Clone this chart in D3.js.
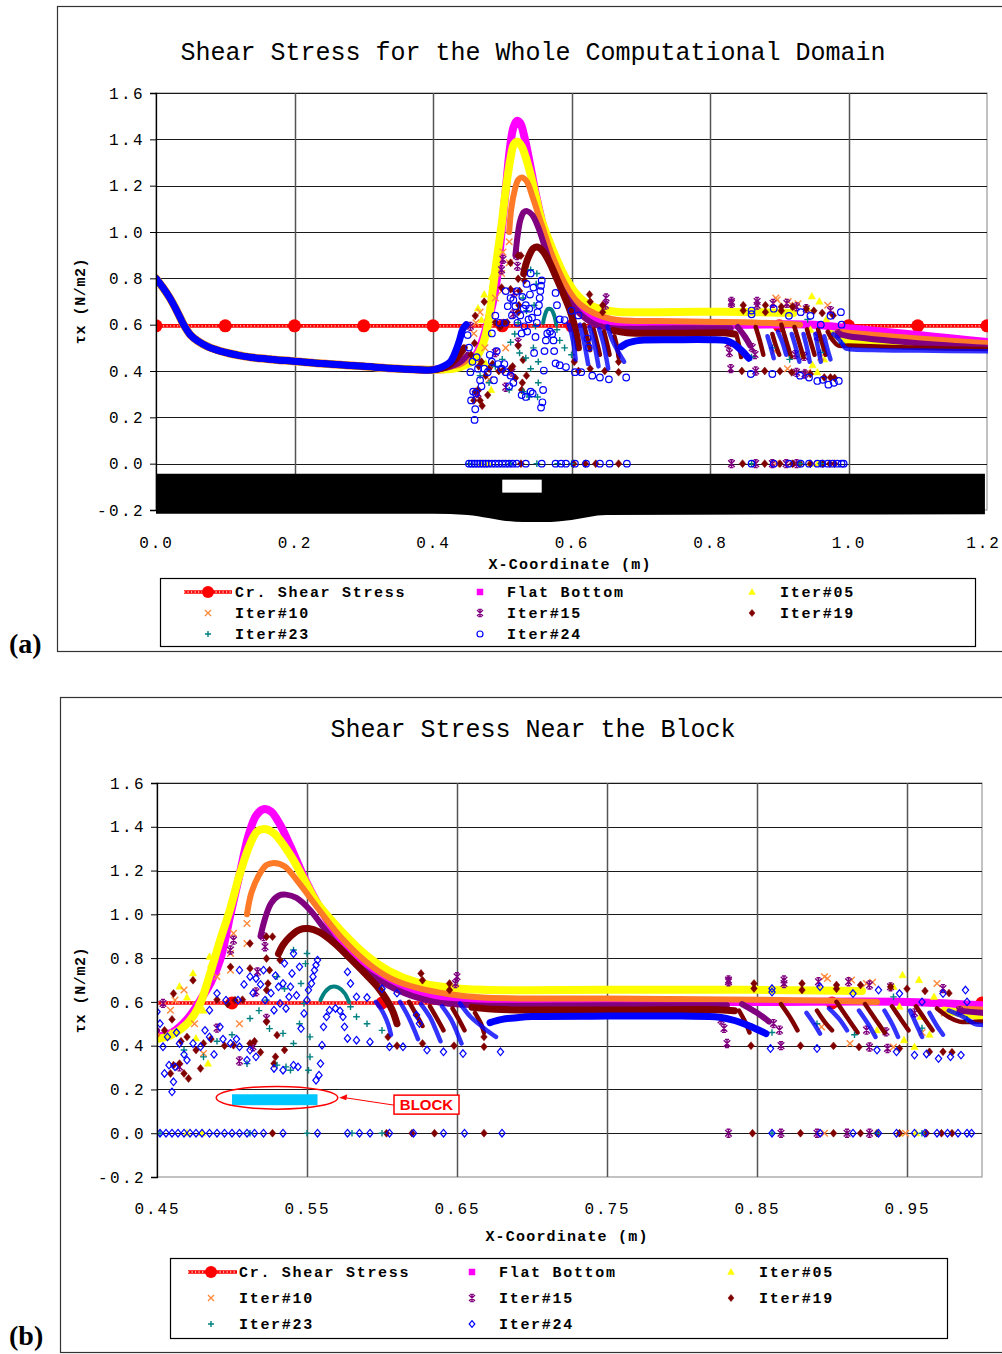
<!DOCTYPE html>
<html>
<head>
<meta charset="utf-8">
<script src="https://cdn.jsdelivr.net/npm/d3@7"></script>
<style>
  body { margin: 0; background: #fff; }
</style>
</head>
<body>
<svg id="chart" width="1002" height="1354"></svg>
<script>
const mono = '"Liberation Mono","Courier New",monospace';

// ---- data (x in m, tau in N/m2) ----
const yTicks = [-0.2, 0, 0.2, 0.4, 0.6, 0.8, 1.0, 1.2, 1.4, 1.6];
const xTicksA = [0, 0.2, 0.4, 0.6, 0.8, 1.0, 1.2];
const xTicksB = [0.45, 0.55, 0.65, 0.75, 0.85, 0.95];

const crX = [0, 0.1, 0.2, 0.3, 0.4, 0.5, 0.6, 0.7, 0.8, 0.9, 1.0, 1.1, 1.2];
const crY = [0.595, 0.595, 0.595, 0.595, 0.595, 0.595, 0.595, 0.595, 0.595, 0.595, 0.595, 0.595, 0.595];

// channel bed shown under panel (a)
const bedX = [0, 0.40, 0.45, 0.48, 0.50, 0.53, 0.56, 0.60, 0.65, 1.197];
const bedTop = [-0.043, -0.043, -0.043, -0.043, -0.043, -0.043, -0.043, -0.043, -0.043, -0.043];
const bedBottom = [-0.216, -0.216, -0.222, -0.235, -0.245, -0.252, -0.252, -0.243, -0.222, -0.218];
const blockX = [0.500, 0.557];

// common decay upstream of the block
const upstream = [[0,0.80],[0.01,0.76],[0.02,0.715],[0.03,0.66],[0.04,0.60],[0.05,0.555],[0.06,0.53],
  [0.075,0.505],[0.1,0.48],[0.13,0.462],[0.16,0.452],[0.2,0.442],[0.25,0.43],[0.3,0.42],[0.35,0.41],[0.4,0.405]];

const flatBand = [upstream.concat([[0.43,0.415],[0.45,0.44],[0.46,0.46],[0.47,0.52],[0.48,0.62],[0.486,0.69],
  [0.492,0.79],[0.499,1.00],[0.505,1.18],[0.511,1.36],[0.516,1.45],[0.521,1.48],[0.526,1.47],[0.532,1.41],
  [0.539,1.31],[0.548,1.17],[0.557,1.05],[0.57,0.90],[0.58,0.81],[0.59,0.75],[0.605,0.69],[0.623,0.645],
  [0.645,0.615],[0.67,0.60],[0.75,0.60],[0.85,0.60],[0.95,0.60],[1.0,0.585],[1.05,0.57],[1.1,0.555],
  [1.15,0.54],[1.2,0.525]])];
const flatPts = [];

const it05Band = [upstream.concat([[0.43,0.41],[0.45,0.43],[0.46,0.45],[0.47,0.50],[0.478,0.58],[0.485,0.72],
  [0.492,0.88],[0.499,1.03],[0.505,1.18],[0.512,1.32],[0.517,1.38],[0.522,1.39],[0.528,1.37],[0.539,1.27],
  [0.548,1.16],[0.557,1.05],[0.572,0.93],[0.59,0.81],[0.605,0.74],[0.623,0.69],[0.645,0.665],[0.667,0.655],
  [0.75,0.655],[0.85,0.655],[0.92,0.65]]),
  [[0.975,0.56],[0.99,0.545],[1.0,0.535],[1.05,0.525],[1.1,0.515],[1.15,0.51],[1.2,0.505]]];
const it05Pts = [[0.459,0.456],[0.465,0.67],[0.474,0.73],[0.476,0.433],[0.481,0.56],[0.484,0.318],[0.485,0.806],
  [0.486,0.77],[0.47,0.62],[0.478,0.60],[0.941,0.669],[0.945,0.578],[0.947,0.722],[0.948,0.425],[0.955,0.394],
  [0.958,0.70],[0.959,0.532],[0.968,0.623],[0.997,0.524],[0.93,0.47],[0.965,0.45],[0.945,0],[0.956,0],[0.47,0],[0.48,0]];

const it10Band = [upstream.concat([[0.42,0.415],[0.44,0.43],[0.45,0.45]]),
  [[0.510,1.00],[0.513,1.10],[0.518,1.18],[0.523,1.225],[0.528,1.235],[0.535,1.22],[0.545,1.14],[0.557,1.03],
   [0.572,0.90],[0.59,0.78],[0.605,0.71],[0.623,0.665],[0.645,0.635],[0.667,0.62],[0.75,0.615],[0.85,0.61],
   [0.9,0.605],[0.93,0.60]],
  [[0.985,0.57],[1.0,0.565],[1.1,0.54],[1.2,0.52]]];
const it10Pts = [[0.459,0.562],[0.462,0.608],[0.468,0.654],[0.481,0.364],[0.490,0.715],[0.499,0.745],[0.499,0.821],
  [0.501,0.913],[0.510,0.867],[0.510,0.958],[0.475,0.50],[0.505,0.50],[0.893,0.486],[0.895,0.715],[0.897,0.707],
  [0.912,0.41],[0.913,0.70],[0.923,0.684],[0.927,0.69],[0.941,0.394],[0.97,0.684],[0.96,0.46],[0.975,0.55],
  [0.895,0],[0.949,0]];

const it15Band = [upstream.concat([[0.42,0.415],[0.44,0.44],[0.45,0.47]]),
  [[0.519,0.90],[0.522,0.98],[0.526,1.05],[0.531,1.085],[0.536,1.09],[0.543,1.075],[0.552,1.02],[0.561,0.94],
   [0.57,0.86],[0.585,0.76],[0.60,0.69],[0.615,0.64],[0.635,0.60],[0.66,0.585],[0.75,0.585],[0.83,0.585]],
  [[0.84,0.59],[0.85,0.55],[0.858,0.51]],
  [[0.985,0.56],[1.0,0.55],[1.1,0.52],[1.2,0.50]]];
const it15Pts = [[0.454,0.593],[0.465,0.303],[0.499,0.837],[0.501,0.882],[0.514,0.395],[0.516,0.646],[0.517,0.737],
  [0.521,0.898],[0.522,0.852],[0.523,0.524],[0.49,0.48],[0.505,0.33],[0.649,0.684],[0.650,0.715],
  [0.826,0.517],[0.828,0.479],[0.830,0.41],[0.831,0.692],[0.831,0.70],[0.861,0.501],[0.865,0.471],[0.866,0.40],
  [0.868,0.684],[0.868,0.70],[0.891,0.692],[0.911,0.692],[0.923,0.471],[0.925,0.677],[0.925,0.394],[0.936,0.463],
  [0.937,0.387],[0.939,0.669],[0.974,0.661],[0.955,0.55],[0.985,0.56],
  [0.831,0],[0.866,0],[0.89,0],[0.91,0],[0.925,0]];

const it19Band = [upstream.concat([[0.42,0.42],[0.435,0.46],[0.445,0.50]]),
  [[0.531,0.82],[0.534,0.86],[0.539,0.90],[0.545,0.93],[0.551,0.935],[0.558,0.92],[0.568,0.87],[0.58,0.79],
   [0.59,0.72],[0.598,0.66],[0.603,0.61],[0.607,0.56],[0.61,0.50]],
  [[0.66,0.575],[0.68,0.565],[0.75,0.563],[0.82,0.565],[0.835,0.56]],
  [[0.618,0.60],[0.623,0.54],[0.627,0.49]],
  [[0.632,0.58],[0.637,0.52],[0.641,0.47]],
  [[0.647,0.57],[0.652,0.51],[0.655,0.47]],
  [[0.662,0.55],[0.666,0.50],[0.668,0.46]],
  [[0.838,0.56],[0.842,0.51],[0.845,0.46]],
  [[0.866,0.59],[0.872,0.53],[0.877,0.47]],
  [[0.89,0.56],[0.895,0.51],[0.90,0.47]],
  [[0.903,0.60],[0.91,0.53],[0.917,0.46]],
  [[0.922,0.59],[0.929,0.52],[0.935,0.46]],
  [[0.94,0.58],[0.946,0.52],[0.951,0.47]],
  [[0.956,0.58],[0.962,0.52],[0.967,0.47]],
  [[0.97,0.57],[0.978,0.53],[0.985,0.51],[1.0,0.51],[1.1,0.50],[1.2,0.495]]];
const it19Pts = [[0.459,0.273],[0.461,0.311],[0.461,0.638],[0.465,0.318],[0.468,0.273],[0.471,0.25],[0.474,0.699],
  [0.479,0.296],[0.481,0.41],[0.499,0.76],[0.501,0.402],[0.502,0.608],[0.512,0.41],[0.512,0.753],[0.512,0.867],
  [0.523,0.509],[0.523,0.654],[0.523,0.798],[0.523,0.898],[0.524,0.684],[0.525,0.745],[0.528,0.318],[0.529,0.349],
  [0.530,0.448],[0.532,0.791],[0.527,0.898],[0.455,0.47],[0.46,0.52],[0.49,0.61],[0.495,0.40],[0.47,0.44],
  [0.466,0.42],[0.476,0.38],[0.486,0.43],[0.497,0.59],[0.507,0.61],[0.515,0.42],[0.519,0.37],[0.535,0.38],
  [0.604,0.44],[0.626,0.73],[0.627,0.699],[0.627,0.41],[0.645,0.684],[0.645,0.654],[0.668,0.44],[0.668,0.395],
  [0.61,0.40],[0.648,0.40],
  [0.846,0.40],[0.848,0.684],[0.848,0.661],[0.879,0.40],[0.880,0.684],[0.880,0.654],[0.901,0.399],[0.903,0.677],
  [0.903,0.66],[0.918,0.394],[0.919,0.677],[0.939,0.669],[0.945,0.387],[0.95,0.66],[0.965,0.372],[0.962,0.65],
  [0.974,0.372],[0.978,0.64],[0.98,0.37],
  [0.527,0],[0.603,0],[0.62,0],[0.635,0],[0.668,0],[0.847,0],[0.879,0],[0.901,0],[0.919,0],[0.93,0],[0.945,0],
  [0.963,0],[0.973,0],[0.98,0]];

const it23Band = [[[0.559,0.608],[0.562,0.645],[0.566,0.668],[0.571,0.665],[0.575,0.64],[0.578,0.60]]];
const it23Pts = [[0.468,0.38],[0.481,0.349],[0.510,0.318],[0.512,0.524],[0.523,0.608],[0.525,0.478],[0.530,0.715],
  [0.530,0.311],[0.534,0.456],[0.536,0.303],[0.539,0.288],[0.541,0.41],[0.541,0.837],[0.546,0.684],[0.548,0.593],
  [0.549,0.775],[0.550,0.821],[0.552,0.44],[0.552,0.349],[0.551,0.288],[0.518,0.56],[0.535,0.66],[0.545,0.50],
  [0.579,0.578],[0.583,0.532],[0.59,0.50],[0.6,0.47],[0.5,0.45],[0.49,0.42],
  [0.86,0.46],[0.89,0.50],[0.915,0.45],[0.941,0.623],[0.96,0.48],[0.99,0.52],
  [0.452,0],[0.512,0],[0.55,0],[0.58,0],[0.6,0],[0.86,0],[0.93,0],[0.96,0]];

const it24Band = [upstream.concat([[0.415,0.42],[0.425,0.44],[0.432,0.48],[0.438,0.53],[0.443,0.58],[0.448,0.60]]),
  [[0.672,0.505],[0.68,0.52],[0.69,0.528],[0.70,0.533],[0.75,0.535],[0.80,0.535],[0.825,0.53],[0.835,0.515],
   [0.845,0.49],[0.856,0.455]],
  [[0.596,0.60],[0.600,0.56],[0.604,0.50],[0.606,0.45]],
  [[0.612,0.60],[0.617,0.54],[0.621,0.48],[0.624,0.43]],
  [[0.626,0.59],[0.632,0.53],[0.636,0.47],[0.639,0.42]],
  [[0.640,0.58],[0.646,0.52],[0.65,0.46],[0.653,0.41]],
  [[0.652,0.593],[0.659,0.532],[0.668,0.48],[0.676,0.44]],
  [[0.883,0.55],[0.888,0.50],[0.892,0.455]],
  [[0.898,0.57],[0.905,0.52],[0.91,0.47]],
  [[0.918,0.56],[0.924,0.50],[0.929,0.44]],
  [[0.935,0.56],[0.94,0.50],[0.944,0.44]],
  [[0.952,0.56],[0.956,0.50],[0.96,0.44]],
  [[0.965,0.55],[0.97,0.49],[0.974,0.45]],
  [[0.978,0.56],[0.988,0.53],[0.995,0.50],[1.0,0.495],[1.05,0.49],[1.1,0.488],[1.2,0.485]]];
const it24Pts = [[0.550,0.608],[0.551,0.654],[0.553,0.684],[0.554,0.715],[0.555,0.745],[0.556,0.768],[0.557,0.791],
  [0.556,0.242],[0.558,0.265],[0.559,0.318],[0.560,0.402],[0.541,0.821],[0.535,0.776],[0.540,0.730],[0.534,0.684],
  [0.539,0.669],[0.531,0.669],[0.538,0.623],[0.532,0.593],[0.548,0.547],[0.546,0.478],[0.528,0.562],[0.522,0.608],
  [0.512,0.715],[0.516,0.707],[0.521,0.745],[0.505,0.745],[0.504,0.608],[0.496,0.608],[0.490,0.639],[0.485,0.562],
  [0.492,0.486],[0.485,0.440],[0.499,0.41],[0.505,0.395],[0.512,0.38],[0.510,0.334],[0.516,0.349],[0.528,0.296],
  [0.534,0.288],[0.541,0.311],[0.544,0.303],[0.470,0.334],[0.462,0.303],[0.458,0.311],[0.455,0.273],[0.461,0.235],
  [0.460,0.189],[0.454,0.395],[0.450,0.555],[0.452,0.501],[0.465,0.41],[0.479,0.395],
  [0.457,0.44],[0.463,0.46],[0.468,0.36],[0.474,0.41],[0.482,0.47],[0.488,0.36],[0.494,0.43],[0.503,0.43],
  [0.508,0.68],[0.514,0.64],[0.519,0.68],[0.526,0.64],[0.529,0.72],[0.536,0.57],[0.543,0.63],[0.545,0.76],
  [0.561,0.486],[0.563,0.532],[0.565,0.562],[0.569,0.570],[0.572,0.559],[0.574,0.532],[0.575,0.486],
  [0.577,0.737],[0.579,0.684],[0.583,0.623],[0.577,0.433],[0.583,0.425],[0.592,0.417],[0.605,0.395],[0.614,0.395],
  [0.630,0.38],[0.641,0.372],[0.654,0.364],[0.679,0.372],[0.623,0.54],[0.625,0.501],[0.59,0.62],[0.60,0.66],[0.61,0.64],
  [0.860,0.661],[0.860,0.645],[0.892,0.669],[0.914,0.638],[0.931,0.654],[0.945,0.638],[0.974,0.638],[0.989,0.654],
  [0.859,0.387],[0.890,0.387],[0.930,0.38],[0.943,0.372],[0.955,0.357],[0.963,0.362],[0.971,0.341],[0.979,0.349],
  [0.986,0.357],[0.96,0.60],[0.99,0.60],
  [0.452,0],[0.456,0],[0.46,0],[0.464,0],[0.468,0],[0.472,0],[0.476,0],[0.48,0],[0.485,0],[0.49,0],[0.495,0],[0.5,0],
  [0.505,0],[0.51,0],[0.515,0],[0.521,0],[0.534,0],[0.557,0],[0.577,0],[0.585,0],[0.592,0],[0.605,0],[0.621,0],
  [0.641,0],[0.655,0],[0.680,0],[0.86,0],[0.892,0],[0.914,0],[0.931,0],[0.943,0],[0.955,0],[0.962,0],[0.97,0],
  [0.977,0],[0.984,0],[0.99,0],[0.993,0]];

// the first segments of a band are the dense curves, the rest are the short falling arcs
const series = [
  { name: "Flat Bottom", color: "#ff00ff", mark: "square", band: flatBand, pts: flatPts, bw: 8, main: 1 },
  { name: "Iter#05", color: "#ffff00", mark: "triangle", band: it05Band, pts: it05Pts, bw: 8, main: 2 },
  { name: "Iter#10", color: "#ff8a3c", bandColor: "#ff7a26", mark: "x", band: it10Band, pts: it10Pts, bw: 6, main: 3 },
  { name: "Iter#15", color: "#800080", mark: "star", band: it15Band, pts: it15Pts, bw: 6, main: 4 },
  { name: "Iter#19", color: "#800000", mark: "diamond", band: it19Band, pts: it19Pts, bw: 7, main: 3 },
  { name: "Iter#23", color: "#008080", mark: "plus", band: it23Band, pts: it23Pts, bw: 4, main: 1 },
  { name: "Iter#24", color: "#0000ff", mark: "hollow", band: it24Band, pts: it24Pts, bw: 7, main: 2 }
];

const svg = d3.select("#chart");

// marker shapes, s = half size
function markerPath(type, s) {
  switch (type) {
    case "square": return `M${-s},${-s}H${s}V${s}H${-s}Z`;
    case "triangle": return `M0,${-s * 1.2}L${s * 1.1},${s * 0.8}L${-s * 1.1},${s * 0.8}Z`;
    case "diamond": return `M0,${-s * 1.2}L${s},0L0,${s * 1.2}L${-s},0Z`;
    case "x": return `M${-s},${-s}L${s},${s}M${-s},${s}L${s},${-s}`;
    case "plus": return `M${-s},0H${s}M0,${-s}V${s}`;
    case "star": return `M${-s},${-s}L${s},${s}M${-s},${s}L${s},${-s}M0,${-s * 1.2}V${s * 1.2}M${-s * 0.6},${-s * 1.2}H${s * 0.6}M${-s * 0.6},${s * 1.2}H${s * 0.6}`;
  }
}

function drawMarker(g, s, px, py, size, hollowShape) {
  if (s.mark === "hollow") {
    if (hollowShape === "circle") {
      g.append("circle").attr("cx", px).attr("cy", py).attr("r", size)
        .attr("fill", "none").attr("stroke", s.color).attr("stroke-width", 1.2);
    } else {
      g.append("path").attr("transform", `translate(${px},${py})`).attr("d", markerPath("diamond", size * 0.95))
        .attr("fill", "none").attr("stroke", s.color).attr("stroke-width", 1.2);
    }
    return;
  }
  const stroked = s.mark === "x" || s.mark === "plus" || s.mark === "star";
  g.append("path").attr("transform", `translate(${px},${py})`)
    .attr("d", markerPath(s.mark, size))
    .attr("fill", stroked ? "none" : s.color)
    .attr("stroke", s.color)
    .attr("stroke-width", stroked ? 1.4 : 0.5);
}

function drawCrLine(g, x1, x2, y0) {
  g.append("line").attr("x1", x1).attr("x2", x2).attr("y1", y0).attr("y2", y0)
    .attr("stroke", "#ff0000").attr("stroke-width", 3.6);
  g.append("line").attr("x1", x1).attr("x2", x2).attr("y1", y0).attr("y2", y0)
    .attr("stroke", "#ffd6d6").attr("stroke-width", 1.3).attr("stroke-dasharray", "1.2,2.3");
}

function panel(cfg) {
  const g = svg.append("g");
  const x = d3.scaleLinear().domain(cfg.xDomain).range([cfg.left, cfg.right]);
  const y = d3.scaleLinear().domain([-0.2, 1.6]).range([cfg.bottom, cfg.top]);

  // outer frame (runs past the right edge of the page)
  g.append("rect").attr("x", cfg.frame[0] + 0.5).attr("y", cfg.frame[1] + 0.5)
    .attr("width", 1100).attr("height", cfg.frame[2] - cfg.frame[1])
    .attr("fill", "none").attr("stroke", "#333").attr("stroke-width", 1.2);

  g.append("text").attr("x", 533).attr("y", cfg.titleY).attr("text-anchor", "middle")
    .attr("font-family", mono).attr("font-size", 25).text(cfg.title);

  // plot border and grid
  g.append("rect").attr("x", cfg.left).attr("y", cfg.top)
    .attr("width", cfg.right - cfg.left).attr("height", cfg.bottom - cfg.top)
    .attr("fill", "none").attr("stroke", "#999").attr("stroke-width", 1.2);
  g.append("g").selectAll("line").data(yTicks.slice(1)).join("line")
    .attr("x1", cfg.left).attr("x2", cfg.right)
    .attr("y1", d => Math.round(y(d)) + 0.5).attr("y2", d => Math.round(y(d)) + 0.5)
    .attr("stroke", "#1a1a1a").attr("stroke-width", 1.1);
  g.append("g").selectAll("line").data(cfg.xGrid).join("line")
    .attr("x1", d => Math.round(x(d)) + 0.5).attr("x2", d => Math.round(x(d)) + 0.5)
    .attr("y1", cfg.top).attr("y2", cfg.bottom)
    .attr("stroke", "#555").attr("stroke-width", 1.5);

  if (cfg.bed) {
    const bed = bedX.map((v, i) => [v, bedTop[i], bedBottom[i]]);
    g.append("path")
      .attr("d", d3.area().x(d => x(d[0])).y0(d => y(d[2])).y1(d => y(d[1])).curve(d3.curveMonotoneX)(bed))
      .attr("fill", "#000");
    g.append("rect").attr("x", x(blockX[0])).attr("width", x(blockX[1]) - x(blockX[0]))
      .attr("y", y(-0.069)).attr("height", y(-0.125) - y(-0.069)).attr("fill", "#fff");
  }

  const clipId = "clip" + cfg.id;
  svg.append("clipPath").attr("id", clipId).append("rect")
    .attr("x", cfg.left).attr("y", cfg.top - 10)
    .attr("width", cfg.right - cfg.left + 1).attr("height", cfg.bottom - cfg.top + 10);
  const plot = g.append("g").attr("clip-path", `url(#${clipId})`);

  // critical shear stress line + big dots
  drawCrLine(plot, x(crX[0]), x(crX[crX.length - 1]), y(crY[0]));
  plot.append("g").selectAll("circle").data(crX.map((v, i) => [v, crY[i]])).join("circle")
    .attr("cx", d => x(d[0])).attr("cy", d => y(d[1])).attr("r", 6.5).attr("fill", "#ff0000");

  const line = d3.line().x(d => x(d[0])).y(d => y(d[1])).curve(d3.curveCatmullRom.alpha(0.5));
  series.forEach(s => {
    const sg = plot.append("g");
    s.band.forEach((seg, i) => {
      const arc = i >= s.main;
      sg.append("path").attr("d", line(seg)).attr("fill", "none")
        .attr("stroke", s.bandColor || s.color).attr("stroke-width", arc ? s.bw - 2.5 : s.bw)
        .attr("stroke-opacity", arc && s.mark === "hollow" ? 0.8 : 1)
        .attr("stroke-linecap", "round").attr("stroke-linejoin", "round");
    });
    s.pts.forEach(p => drawMarker(sg, s, x(p[0]), y(p[1]), 3.3, cfg.hollow));
  });

  // y axis
  g.append("g").attr("transform", `translate(${cfg.left},0)`)
    .call(d3.axisLeft(y).tickValues(yTicks).tickFormat(d => d.toFixed(1)).tickSize(6).tickPadding(5))
    .call(a => a.select(".domain").attr("stroke", "#000").attr("stroke-width", 1.3))
    .call(a => a.selectAll(".tick line").attr("stroke", "#000"))
    .call(a => a.selectAll("text").attr("font-family", mono).attr("font-size", 16)
      .attr("letter-spacing", 2.4).attr("fill", "#000"));

  // x axis labels
  g.append("g").attr("transform", `translate(0,${cfg.bottom})`)
    .call(d3.axisBottom(x).tickValues(cfg.xTicks).tickFormat(d3.format(cfg.xFmt)).tickSize(0).tickPadding(cfg.xPad))
    .call(a => a.select(".domain").remove())
    .call(a => a.selectAll("text").attr("font-family", mono).attr("font-size", 16)
      .attr("letter-spacing", 1.9).attr("fill", "#000")
      .attr("dx", (d, i, n) => (i === n.length - 1 && cfg.id === "a") ? -4 : 0));

  g.append("text").attr("x", cfg.xTitle[0]).attr("y", cfg.xTitle[1]).attr("text-anchor", "middle")
    .attr("font-family", mono).attr("font-size", 15).attr("font-weight", "bold")
    .attr("letter-spacing", 1.2).text("X-Coordinate (m)");
  g.append("text").attr("transform", `translate(85,${cfg.yTitleY}) rotate(-90)`).attr("text-anchor", "middle")
    .attr("font-family", mono).attr("font-size", 15).attr("font-weight", "bold")
    .attr("letter-spacing", 0.6).text("\u03c4x (N/m2)");

  // panel label
  g.append("text").attr("x", 9).attr("y", cfg.labelY).attr("font-family", '"Liberation Serif","Times New Roman",serif')
    .attr("font-size", 28).attr("font-weight", "bold").text(cfg.label);

  // legend
  const L = cfg.legend;
  g.append("rect").attr("x", L.box[0] + 0.5).attr("y", L.box[1] + 0.5)
    .attr("width", L.box[2] - L.box[0]).attr("height", L.box[3] - L.box[1])
    .attr("fill", "#fff").attr("stroke", "#000").attr("stroke-width", 1.2);
  const entries = [{ name: "Cr. Shear Stress", cr: true }].concat(series);
  entries.forEach((e, i) => {
    const col = i % 3, row = Math.floor(i / 3);
    const mx = L.mx[col], ty = L.rows[row];
    if (e.cr) {
      drawCrLine(g, L.crLine[0], L.crLine[1], ty);
      g.append("circle").attr("cx", mx).attr("cy", ty).attr("r", 6).attr("fill", "#ff0000");
    } else {
      drawMarker(g, e, mx, ty, 3, cfg.hollow);
    }
    g.append("text").attr("x", L.tx[col]).attr("y", ty + 5)
      .attr("font-family", mono).attr("font-size", 15).attr("font-weight", "bold")
      .attr("letter-spacing", 1.7).text(e.name);
  });

  return { g, x, y };
}

panel({
  id: "a", title: "Shear Stress for the Whole Computational Domain", titleY: 60,
  frame: [57, 6, 651], left: 156, right: 987, top: 93, bottom: 510,
  xDomain: [0, 1.2], xTicks: xTicksA, xFmt: ".1f", xGrid: [0.2, 0.4, 0.6, 0.8, 1.0], xPad: 27,
  xTitle: [570, 569], yTitleY: 301, bed: true, hollow: "circle", label: "(a)", labelY: 653,
  legend: { box: [160, 578, 975, 646], mx: [208, 480, 752], tx: [235, 507, 780], rows: [592, 613, 634], crLine: [184, 232] }
});

const pb = panel({
  id: "b", title: "Shear Stress Near the Block", titleY: 737,
  frame: [60, 697, 1352], left: 157, right: 982, top: 783, bottom: 1177,
  xDomain: [0.45, 1.0], xTicks: xTicksB, xFmt: ".2f", xGrid: [0.55, 0.65, 0.75, 0.85, 0.95], xPad: 26,
  xTitle: [567, 1241], yTitleY: 990, bed: false, hollow: "diamond", label: "(b)", labelY: 1345,
  legend: { box: [170, 1258, 947, 1338], mx: [211, 472, 731], tx: [239, 499, 759], rows: [1272, 1298, 1324], crLine: [188, 237] }
});

// block annotation in panel (b)
(function () {
  const { g, x, y } = pb;
  g.append("rect").attr("x", x(blockX[0])).attr("width", x(blockX[1]) - x(blockX[0]))
    .attr("y", y(0.178)).attr("height", y(0.128) - y(0.178)).attr("fill", "#00c8ff");
  const cx = x(0.53), cy = y(0.162);
  g.append("ellipse").attr("cx", cx).attr("cy", cy)
    .attr("rx", x(0.5705) - x(0.53)).attr("ry", y(0.11) - y(0.162))
    .attr("fill", "none").attr("stroke", "#ff0000").attr("stroke-width", 1.5);
  const bx = x(0.608), by = y(0.174);
  g.append("line").attr("x1", bx).attr("y1", by + 10).attr("x2", x(0.5715) + 6).attr("y2", cy)
    .attr("stroke", "#ff0000").attr("stroke-width", 1);
  g.append("path").attr("d", `M${x(0.5715)},${cy}l8,-3.5l-1,6z`).attr("fill", "#ff0000");
  g.append("rect").attr("x", bx).attr("y", by).attr("width", 65).attr("height", 19)
    .attr("fill", "#fff").attr("stroke", "#ff0000").attr("stroke-width", 1.5);
  g.append("text").attr("x", bx + 32.5).attr("y", by + 15).attr("text-anchor", "middle")
    .attr("font-family", '"Liberation Sans",Arial,sans-serif').attr("font-size", 15).attr("font-weight", "bold")
    .attr("fill", "#ff0000").text("BLOCK");
})();
</script>
</body>
</html>
